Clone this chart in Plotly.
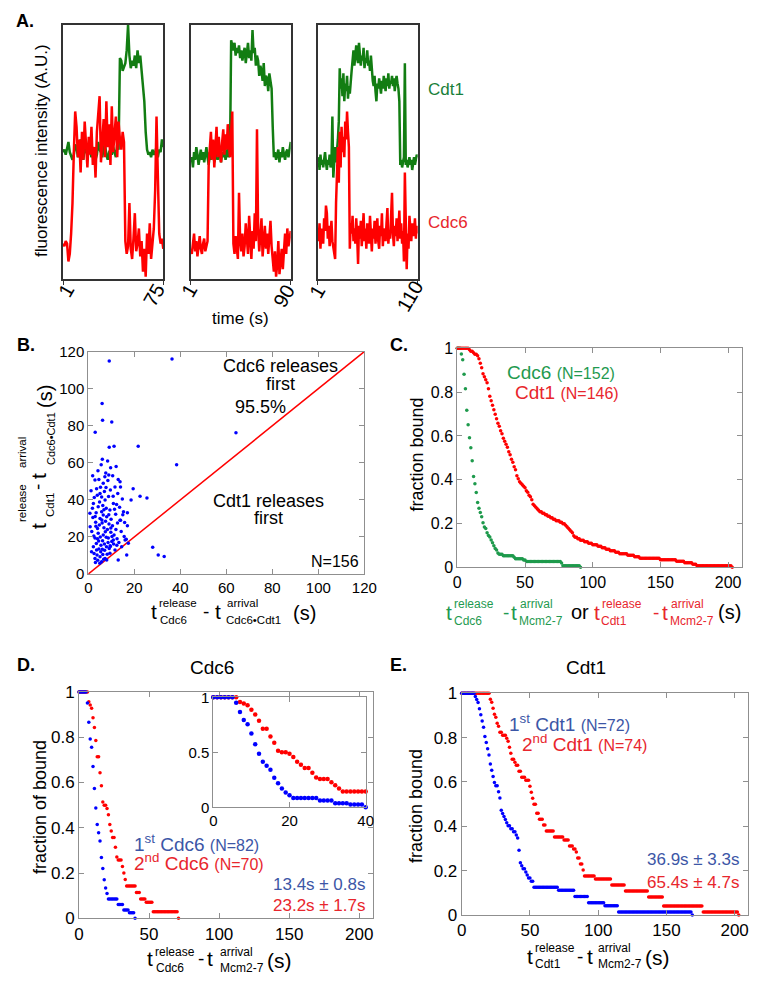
import numpy as np
import plotly.graph_objects as go

W, H = 764, 987
# the page body adds a small margin around the figure; measured positions are shifted back by it
OX, OY = 8, 8
FONT = 'Liberation Sans, Arial, Helvetica, sans-serif'

GREEN_A = '#127d12'
RED = '#ff0000'
BLUE = '#0000ff'
GREEN_C = '#1e9a4c'
TXT_BLUE = '#3c56a6'
TXT_RED = '#e8262d'
TXT_GREEN = '#1f9a50'
TXT_GREEN_A = '#1a7f3a'
AXIS_GRAY = '#8f8f8f'

# --- Panel A: single-molecule intensity traces (A.U., one value per second) ---
A1_CDT1 = [50, 51, 49, 52, 54, 50, 48, 47, 49, 53, 52, 48, 50, 55, 51, 47, 52, 50, 49, 53,
           51, 48, 50, 52, 47, 49, 54, 51, 50, 48, 52, 53, 49, 47, 50, 51, 49, 52, 50, 48,
           53, 51, 87, 86, 82, 84, 85, 90, 100, 88, 83, 86, 84, 88, 83, 90, 85, 88, 82, 78,
           70, 58, 51, 49, 50, 48, 51, 49, 50, 52, 48, 51, 50, 55, 52]
A1_CDC6 = [14, 13, 15, 14, 7, 10, 18, 30, 50, 66,
           60, 48, 55, 42, 58, 47, 62, 50, 44, 56, 49, 60, 45, 52, 40, 58, 66, 72, 46, 55,
           63, 48, 70, 52, 61, 45, 68, 50, 57, 64, 48, 62, 55, 51, 58, 54,
           15, 10, 13, 30, 12, 8, 16, 26, 11, 14, 20, 9, 15, 3, 12, 1, 18, 10, 22, 8,
           14, 20, 35, 64, 40, 18, 14, 16, 12]
A2_CDT1 = [46, 48, 44, 50, 47, 52, 49, 45, 48, 51, 47, 50, 46, 49, 52, 48, 45, 50, 47, 49,
           51, 46, 48, 50, 47, 52, 49, 46, 50, 48, 51, 47, 49, 52, 48, 50,
           94, 92, 90, 93, 88, 91, 89, 92, 87, 90, 86, 89, 91, 85, 88, 93, 87, 90, 86, 98,
           89, 91, 84, 88, 86, 80, 84, 82, 78, 85, 76, 80, 79, 74, 81, 77, 75,
           60, 48, 50, 47, 49, 51, 46, 50, 48, 52, 49, 47, 50, 51, 48, 52, 54]
A2_CDC6 = [12, 10, 14, 18, 11, 15, 9, 13, 17, 12, 10, 14, 16, 11, 13, 15,
           45, 50, 58, 47, 55, 44, 52, 60, 48, 56, 50, 46, 54, 59, 49, 57, 51, 61, 53, 48, 58, 66,
           14, 10, 17, 12, 8, 34, 15, 11, 18, 9, 13, 22, 16, 10, 25, 14, 8, 19, 12, 26,
           15, 59, 20, 11, 17, 24, 9, 14, 21, 12, 18, 10, 16, 23, 13, 8, 3, 11, 1, 6,
           15, 2, 9, 12, 4, 14, 18, 10, 20, 13, 17, 19]
A3_CDT1 = [46, 48, 43, 49, 45, 47, 44, 48, 50, 46, 43, 47, 45, 49, 44, 46,
           64, 40, 48, 52, 46, 50, 55, 62,
           83, 75, 79, 72, 81, 70, 77, 74, 80, 71, 76, 73, 79,
           82, 86, 90, 84, 88, 92, 87, 85, 93, 89, 84, 88, 86, 91, 83, 87, 85, 90, 84, 86, 82, 88, 80,
           78, 76, 80, 74, 70, 77, 75, 79, 76, 73, 78, 75, 80, 77, 74, 79, 76, 81, 75, 78,
           77, 80, 76, 79, 74, 78, 80, 77, 75, 70,
           45, 47, 44, 46, 48, 85, 45, 47, 44, 46, 48, 45, 47, 43, 46, 48, 45, 47, 49, 48]
A3_CDC6 = [18, 15, 22, 12, 20, 17, 14, 24, 19, 29, 26, 16, 21, 13, 18, 23, 15, 12, 10, 8,
           30, 45, 52, 38, 58, 44, 60, 50, 56, 48, 62, 55, 66, 58, 52,
           12, 22, 18, 25, 15, 20, 14, 24, 17, 6, 21, 16, 23, 13, 19, 26, 15, 20, 12, 22,
           17, 14, 25, 18, 11, 20, 16, 23, 14, 19, 24, 15, 12, 21, 17, 26, 13, 20, 18, 15,
           22, 28, 14, 19, 16, 25, 34, 18, 13, 21, 17, 24, 15, 20, 27, 16, 22, 14, 19, 7,
           42, 23, 4, 18, 12, 25, 20, 15, 22, 17, 19, 24, 16, 21, 18]

# --- Panel B: Cdt1 vs Cdc6 dwell after Cdc6-Cdt1 arrival (s) ---
B_X = [9.1, 36.4, 6, 6.2, 10.2, 3, 64.2, 9.1, 11.2, 21.7, 6.1, 8.4, 38.4, 1.9, 7.6, 8.9, 4.6, 6.5,
       19.5, 22.5, 25.5, 13, 14, 17, 15, 17, 14, 13, 16.7, 17.4, 28, 30.4, 33, 8, 0.7, 0.8, 2.9,
       3.6, 5.1, 5.8, 7.3, 2.2, 4.3, 5.8, 6.5, 5.1, 8, 9.4, 10.9, 11.6, 13.8, 13.8, 15.3, 16, 16.5,
       14.5, 12.4, 10.9, 8.7, 6.5, 4.3, 2.9, 2.2, 3.6, 5.1, 2.9, 5.8, 7.3, 9.4, 11.6, 7.9, 10.2,
       3.2, 4, 4.8, 6, 6.8, 7.5, 8.3, 9, 9.8, 10.5, 11.2, 12, 3.5, 4.5, 5.5, 6.2, 7, 7.8, 8.6, 9.5,
       10.3, 11, 12.5, 13.3, 2.5, 3.8, 4.6, 5.4, 6.3, 7.1, 8.2, 9.1, 9.6, 4.1, 6.7, 3.1, 2.4, 1.5,
       2, 3.4, 4.9, 6.3, 7.8, 8.8, 3.9, 5.3, 7, 9.6, 10.8, 12.3, 11.9, 12.7, 14.3, 15.6, 13.6, 8.5,
       7.2, 4.2, 9.7, 5.6, 10.6, 1.2, 2.6, 1.8, 3, 5.9, 6.8, 8.9, 7.4, 5.2, 4, 9.9, 11.4, 15.8,
       12.8, 5, 9.8, 12.1, 6.1, 3.3, 7.7, 1.4, 18.6, 14.8]
B_Y = [115, 116, 92, 83, 82, 76.5, 76.3, 68.4, 69, 69, 62, 61, 59, 53, 54.5, 53.5, 51, 49,
       46, 42, 41, 51, 47, 33, 32, 26, 29, 7.5, 10.2, 16.6, 14.4, 10.3, 9.4, 7.5, 32.8, 25.5, 50.7,
       46, 43.5, 41.5, 40, 38, 36.3, 33.6, 31.8, 30, 30.9, 34.5, 38, 47, 49.8, 29, 33.6, 18.4, 18.8,
       14.7, 15.5, 18.4, 19.4, 21, 22, 19.4, 14.7, 12.9, 9.3, 8.4, 6.6, 8.4, 11.2, 12.9, 14.7, 17.5,
       28, 24.5, 26.5, 27.5, 25, 28.5, 24, 27, 22.5, 26, 21, 24, 16.5, 17.8, 15.5, 18, 16.2, 19.8, 17, 15.2,
       20.3, 16.2, 19, 17, 11, 10.2, 13.5, 12, 10.5, 12.8, 10.6, 13.8, 14.8, 7.4, 8, 6.2, 20.5, 23,
       30.5, 33, 38.8, 37, 35.5, 41.8, 42.5, 46.8, 44.5, 45.3, 42, 37.5, 32.2, 27.5, 23, 20.2, 36, 50.5,
       52.5, 55.8, 57.3, 59, 53, 45, 41.3, 35.5, 31, 29.2, 34.7, 32, 22.8, 20, 19, 29.6, 35, 27.8,
       43.5, 5.8, 24.8, 58, 13.3, 25.8, 46.7, 12, 40, 40.5]
B_DIAG = [0, 120]

# --- Panels C-E: release times (s) and number of molecules released at that time ---
C_CDC6_T = [3, 4, 5, 6, 7, 8, 9, 10, 11, 12, 13, 14, 15, 16, 17, 18, 19, 20, 21, 22, 23, 24,
            25, 26, 27, 28, 29, 30, 31, 34, 42, 43, 49, 51, 77, 78, 91]
C_CDC6_K = [4, 4, 10, 10, 15, 10, 9, 7, 9, 11, 5, 6, 7, 4, 3, 3, 4, 3, 1, 3, 2, 1,
            2, 2, 2, 2, 1, 2, 1, 1, 1, 1, 1, 1, 1, 2, 1]
C_CDT1_T = [9, 10, 12, 13, 15, 16, 17, 18, 19, 20, 21, 22, 23, 24, 25, 26, 27, 28, 29, 30,
            31, 32, 33, 34, 35, 36, 37, 38, 39, 40, 41, 42, 43, 44, 45, 46, 47, 48, 49, 50,
            51, 52, 53, 54, 55, 56, 57, 58, 59, 60, 61, 63, 65, 67, 69, 71, 73, 76, 78, 80,
            81, 82, 83, 84, 85, 86, 87, 89, 91, 94, 97, 100, 104, 107, 110, 113, 117, 120,
            126, 131, 135, 150, 162, 168, 174, 177, 203]
C_CDT1_K = [1, 1, 1, 1, 1, 2, 3, 3, 4, 2, 2, 2, 4, 5, 3, 3, 3, 3, 3, 3,
            2, 3, 2, 3, 2, 2, 2, 3, 2, 3, 2, 3, 2, 4, 2, 2, 1, 1, 1, 1,
            2, 1, 2, 1, 2, 3, 1, 1, 1, 1, 1, 1, 1, 1, 1, 1, 1, 1, 1, 1,
            1, 1, 1, 1, 1, 2, 1, 1, 1, 1, 1, 1, 1, 1, 1, 1, 1, 1,
            1, 1, 1, 1, 1, 1, 1, 1, 1]
D_FIRST_T = [6, 7, 8, 9, 10, 11, 12, 13, 14, 15, 16, 17, 18, 19, 20, 21, 28, 32, 36, 40]
D_FIRST_K = [4, 7, 6, 3, 7, 8, 7, 6, 3, 3, 6, 4, 4, 3, 2, 2, 2, 2, 1, 2]
D_SECOND_T = [7, 8, 9, 10, 11, 12, 13, 15, 16, 17, 18, 20, 21, 22, 23, 24, 26, 27, 28,
              31, 32, 33, 34, 41, 44, 48, 53, 71]
D_SECOND_K = [3, 1, 1, 3, 3, 4, 5, 5, 4, 5, 1, 1, 2, 3, 2, 2, 3, 3, 1,
              2, 2, 2, 2, 2, 2, 1, 3, 2]
E_FIRST_T = [10, 11, 12, 13, 14, 15, 16, 17, 18, 19, 20, 21, 22, 23, 24, 25, 27, 28, 29, 30,
             31, 32, 33, 34, 36, 38, 40, 41, 42, 43, 44, 45, 47, 48, 49, 51, 53, 71, 83, 93,
             105, 115, 169]
E_FIRST_K = [1, 1, 1, 2, 2, 2, 2, 3, 2, 2, 2, 3, 2, 2, 2, 1, 2, 2, 4, 1,
             1, 1, 1, 1, 1, 1, 1, 1, 4, 4, 1, 1, 1, 1, 1, 1, 2, 1, 2, 2,
             1, 2, 1]
E_SECOND_T = [21, 22, 23, 24, 25, 26, 27, 28, 30, 33, 34, 35, 36, 37, 39, 40, 42, 44, 47,
              50, 51, 52, 53, 55, 57, 60, 62, 68, 75, 79, 82, 84, 85, 87, 89, 90, 98, 110,
              120, 137, 148, 177, 203]
E_SECOND_K = [2, 1, 2, 2, 1, 2, 1, 2, 1, 1, 1, 2, 2, 2, 1, 1, 2, 2, 1,
              2, 2, 2, 2, 3, 2, 2, 2, 2, 1, 2, 1, 1, 2, 2, 2, 2, 1, 2,
              2, 2, 3, 2, 1]


def survival(times, counts):
    """Fraction still bound at every second, from release times."""
    rel = np.repeat(times, counts)
    t = np.arange(0, rel.max() + 1)
    frac = np.array([(rel > s).sum() for s in t]) / len(rel)
    return t, frac


def dom(l, r, t, b):
    l, r, t, b = l - OX, r - OX, t - OY, b - OY
    return [l / W, r / W], [1 - b / H, 1 - t / H]


fig = go.Figure()
axes = {}


def add_axes(i, box, xr, yr, xkw, ykw):
    xd, yd = dom(*box)
    s = '' if i == 1 else str(i)
    axes['xaxis' + s] = dict(domain=xd, range=xr, anchor='y' + s, automargin=False, **xkw)
    axes['yaxis' + s] = dict(domain=yd, range=yr, anchor='x' + s, automargin=False, **ykw)


def sci(tickvals, size):
    return dict(tickvals=tickvals, showline=True, linecolor=AXIS_GRAY, linewidth=1,
                mirror='ticks', ticks='inside', ticklen=5, tickcolor=AXIS_GRAY,
                showgrid=False, zeroline=False,
                tickfont=dict(family=FONT, size=size, color='black'))


notes = []


def note(x, y, text, size, color='black', anchor='center', angle=0):
    notes.append(dict(x=(x - OX) / W, y=1 - (y - OY) / H, xref='paper', yref='paper', text=text,
                      showarrow=False, xanchor=anchor, yanchor='middle', textangle=angle,
                      font=dict(family=FONT, size=size, color=color)))


# panel A
a_boxes = [(63, 163.3, 25, 279.3), (190.7, 290.7, 25, 279.3), (317.7, 417.7, 25, 279.3)]
a_data = [(A1_CDT1, A1_CDC6), (A2_CDT1, A2_CDC6), (A3_CDT1, A3_CDC6)]
a_tick_pos = [((66, 291), (154, 295)), ((189, 291), (284, 296)), ((317, 292), (410, 296))]
for i, (box, (cdt1, cdc6), tp) in enumerate(zip(a_boxes, a_data, a_tick_pos), start=1):
    n = len(cdt1)
    t = np.arange(1, n + 1)
    s = '' if i == 1 else str(i)
    fig.add_trace(go.Scatter(x=t, y=cdt1, mode='lines', line=dict(color=GREEN_A, width=2.5),
                             xaxis='x' + s, yaxis='y' + s))
    fig.add_trace(go.Scatter(x=t, y=cdc6, mode='lines', line=dict(color=RED, width=2.5),
                             xaxis='x' + s, yaxis='y' + s))
    add_axes(i, box, [1, n], [0, 100],
             dict(tickvals=[1, n], showticklabels=False, showline=True,
                  linecolor='#333333', linewidth=2, mirror=True, ticks='outside', ticklen=4,
                  tickcolor='#333333', showgrid=False, zeroline=False),
             dict(showticklabels=False, ticks='', showline=True, linecolor='#333333',
                  linewidth=2, mirror=True, showgrid=False, zeroline=False))
    note(tp[0][0], tp[0][1], '1', 20, angle=-60)
    note(tp[1][0], tp[1][1], str(n), 20, angle=-60)

# panel B
fig.add_trace(go.Scatter(x=B_DIAG, y=B_DIAG, mode='lines', line=dict(color=RED, width=1.5),
                         xaxis='x4', yaxis='y4'))
fig.add_trace(go.Scatter(x=B_X, y=B_Y, mode='markers', marker=dict(color=BLUE, size=3.5),
                         xaxis='x4', yaxis='y4', cliponaxis=False))
add_axes(4, (88.3, 364.3, 351.7, 574), [0, 120], [0, 120],
         sci(list(range(0, 121, 20)), 15), sci(list(range(0, 121, 20)), 15))


def dots(tk, color, ax, size=3.5):
    t, f = survival(*tk)
    fig.add_trace(go.Scatter(x=t, y=f, mode='markers', marker=dict(color=color, size=size),
                             xaxis='x' + ax, yaxis='y' + ax, cliponaxis=False))


yt = [0, 0.2, 0.4, 0.6, 0.8, 1]
xt = [0, 50, 100, 150, 200]

# panel C
dots((C_CDC6_T, C_CDC6_K), GREEN_C, '5')
dots((C_CDT1_T, C_CDT1_K), RED, '5')
add_axes(5, (457.3, 741.7, 348.3, 567.3), [0, 210], [0, 1], sci(xt, 16), sci(yt, 16))

# panel D + inset
dots((D_SECOND_T, D_SECOND_K), RED, '6')
dots((D_FIRST_T, D_FIRST_K), BLUE, '6')
add_axes(6, (79, 373.3, 692, 918.3), [0, 210], [0, 1], sci(xt, 17), sci(yt, 17))
dots((D_SECOND_T, D_SECOND_K), RED, '7', size=4.5)
dots((D_FIRST_T, D_FIRST_K), BLUE, '7', size=4.5)
add_axes(7, (213.3, 365.7, 697.3, 807.3), [0, 40], [0, 1],
         sci([0, 20, 40], 15), sci([0, 0.5, 1], 15))

# panel E
dots((E_SECOND_T, E_SECOND_K), RED, '8')
dots((E_FIRST_T, E_FIRST_K), BLUE, '8')
add_axes(8, (461.7, 748.3, 693.3, 915), [0, 210], [0, 1], sci(xt, 17), sci(yt, 17))

# --- text ---
for lab, x, y in [('A.', 14, 21), ('B.', 15, 345), ('C.', 388, 345), ('D.', 15, 665), ('E.', 388, 665)]:
    note(x, y, '<b>%s</b>' % lab, 18, anchor='left')

note(41, 151, 'fluorescence intensity (A.U.)', 17, angle=-90)
note(241, 318, 'time (s)', 17)
note(426, 89, 'Cdt1', 17, TXT_GREEN_A, anchor='left')
note(426, 222, 'Cdc6', 17, TXT_RED, anchor='left')

note(280, 366, 'Cdc6 releases', 18)
note(280, 384, 'first', 18)
note(260, 407, '95.5%', 18)
note(268, 501, 'Cdt1 releases', 18)
note(268, 518, 'first', 18)
note(361, 561, 'N=156', 16, anchor='right')

# B axis titles (stacked super/subscripts)
for txt, x, y, sz in [('t', 154, 611, 21), ('release', 178, 603, 11.5), ('Cdc6', 173, 620, 11.5),
                      ('-', 206, 611, 19), ('t', 218, 611, 21), ('arrival', 242.5, 603, 11.5),
                      ('Cdc6•Cdt1', 253, 620, 11.5), ('(s)', 304, 613, 20)]:
    note(x, y, txt, sz)
for txt, x, y, sz in [('t', 38, 526, 21), ('release', 22, 503, 11.5), ('Cdt1', 50, 505, 11.5),
                      ('-', 37, 487, 19), ('t', 39, 476, 21), ('arrival', 22, 452, 11.5),
                      ('Cdc6•Cdt1', 51, 439, 11), ('(s)', 45, 397, 20)]:
    note(x, y, txt, sz, angle=-90)

# C
note(416.5, 455, 'fraction bound', 18, angle=-90)
note(505, 372, "Cdc6 <span style='font-size:16px'>(N=152)</span>", 19, TXT_GREEN, anchor='left')
note(513, 392, "Cdt1 <span style='font-size:16px'>(N=146)</span>", 19, TXT_RED, anchor='left')
for txt, x, y, sz, c in [('t', 448.5, 612, 21, TXT_GREEN), ('release', 473.5, 604, 12, TXT_GREEN),
                         ('Cdc6', 467.5, 621, 12, TXT_GREEN), ('-', 505.5, 612, 19, TXT_GREEN),
                         ('t', 514, 612, 21, TXT_GREEN), ('arrival', 536, 604, 12, TXT_GREEN),
                         ('Mcm2-7', 541, 621, 12, TXT_GREEN), ('or', 579.5, 612, 20, 'black'),
                         ('t', 596.5, 612, 21, TXT_RED), ('release', 622, 604, 12, TXT_RED),
                         ('Cdt1', 614, 621, 12, TXT_RED), ('-', 655.5, 612, 19, TXT_RED),
                         ('t', 665, 612, 21, TXT_RED), ('arrival', 687.5, 604, 12, TXT_RED),
                         ('Mcm2-7', 692, 621, 12, TXT_RED), ('(s)', 729, 612, 20, 'black')]:
    note(x, y, txt, sz, c)

# D
note(211.7, 667, 'Cdc6', 19)
note(40, 807, 'fraction of bound', 18, angle=-90)
note(131.7, 843, "1<sup>st</sup> Cdc6 <span style='font-size:16px'>(N=82)</span>", 19, TXT_BLUE, anchor='left')
note(131.7, 862, "2<sup>nd</sup> Cdc6 <span style='font-size:16px'>(N=70)</span>", 19, TXT_RED, anchor='left')
note(368.3, 884, '13.4s ± 0.8s', 17, TXT_BLUE, anchor='right')
note(368.3, 905, '23.2s ± 1.7s', 17, TXT_RED, anchor='right')
for txt, x, y, sz in [('t', 150, 958, 21), ('release', 175, 952, 12), ('Cdc6', 170, 968, 12),
                      ('-', 200.5, 958, 19), ('t', 210, 958, 21), ('arrival', 236, 952, 12),
                      ('Mcm2-7', 241.7, 968, 12), ('(s)', 279, 960, 21)]:
    note(x, y, txt, sz)

# E
note(585.8, 667, 'Cdt1', 19)
note(416, 806, 'fraction bound', 18, angle=-90)
note(506.7, 723, "1<sup>st</sup> Cdt1 <span style='font-size:16px'>(N=72)</span>", 19, TXT_BLUE, anchor='left')
note(520, 743, "2<sup>nd</sup> Cdt1 <span style='font-size:16px'>(N=74)</span>", 19, TXT_RED, anchor='left')
note(741.7, 859, '36.9s ± 3.3s', 17, TXT_BLUE, anchor='right')
note(741.7, 882, '65.4s ± 4.7s', 17, TXT_RED, anchor='right')
for txt, x, y, sz in [('t', 530, 956, 21), ('release', 555, 948, 12), ('Cdt1', 548.3, 963.5, 12),
                      ('-', 580, 956, 19), ('t', 590, 956, 21), ('arrival', 614, 948, 12),
                      ('Mcm2-7', 620, 963.5, 12), ('(s)', 657.5, 957, 21)]:
    note(x, y, txt, sz)

fig.update_layout(width=W, height=H, margin=dict(l=0, r=0, t=0, b=0, autoexpand=False),
                  autosize=False, plot_bgcolor='white', paper_bgcolor='white', showlegend=False,
                  font=dict(family=FONT), annotations=notes, **axes)

fig.write_html('out.html')
